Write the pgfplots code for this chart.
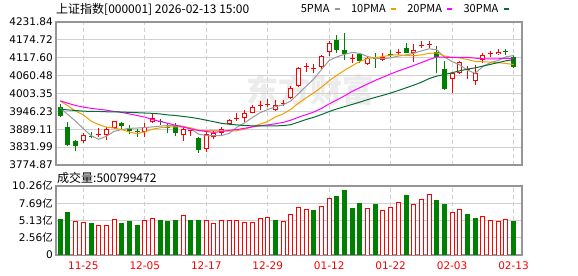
\documentclass[border=0pt]{standalone}
\usepackage{fontspec}
\setmainfont{DejaVu Sans}
\newfontfamily\cjk{Noto Sans CJK SC}
\usepackage{pgfplots}
\usepackage{pgfplotstable}
\pgfplotsset{compat=1.18}

\definecolor{cred}{RGB}{255,0,0}
\definecolor{cgreen}{RGB}{0,128,0}
\definecolor{maf}{RGB}{153,153,153}
\definecolor{mat}{RGB}{240,160,0}
\definecolor{mtw}{RGB}{255,0,255}
\definecolor{mth}{RGB}{0,110,50}
\definecolor{gridc}{RGB}{208,208,208}
\definecolor{framec}{RGB}{150,150,150}
\definecolor{wmark}{RGB}{236,236,236}
\newcommand\tfont{\fontsize{10.5bp}{12bp}\selectfont}

% red (up) candles: index open high low close
\pgfplotstableread{
i o h l c
3 3852.6 3878.1 3845.2 3869.8
5 3869.2 3894.7 3864.4 3874.0
6 3871.7 3896.3 3855.8 3889.0
7 3893.2 3916.5 3890.9 3914.5
11 3879.4 3909.1 3864.4 3896.3
12 3911.4 3938.8 3908.2 3925.1
16 3870.8 3895.4 3852.6 3889.0
17 3882.5 3888.0 3866.6 3883.5
19 3825.1 3881.3 3817.4 3873.0
20 3863.4 3884.5 3857.0 3876.2
21 3878.1 3895.4 3870.8 3889.0
22 3905.0 3921.9 3902.7 3918.7
23 3920.3 3940.1 3916.5 3921.9
24 3924.1 3950.6 3913.3 3942.0
25 3942.0 3966.6 3940.1 3961.2
26 3963.4 3979.4 3950.6 3965.7
27 3967.6 3984.8 3961.2 3969.8
28 3950.6 3982.6 3947.5 3966.6
29 3969.8 3982.6 3963.4 3972.0
30 3989.9 4027.3 3984.8 4021.9
31 4028.3 4089.0 4025.1 4083.9
32 4088.0 4101.8 4073.0 4089.6
33 4080.7 4096.7 4067.9 4081.6
34 4089.0 4126.4 4080.7 4123.2
35 4136.9 4171.1 4123.2 4165.7
38 4112.0 4128.6 4101.8 4113.6
40 4096.7 4123.2 4094.4 4115.8
42 4110.4 4133.7 4108.2 4121.0
44 4133.7 4144.6 4126.4 4135.9
46 4131.8 4160.6 4105.0 4142.3
47 4155.1 4172.1 4147.8 4157.4
48 4159.3 4172.1 4147.8 4161.5
51 4048.7 4073.0 4005.9 4069.8
52 4067.9 4108.2 4065.7 4103.0
53 4077.5 4091.2 4048.7 4078.4
54 4044.3 4094.4 4030.5 4069.8
55 4110.4 4131.8 4099.9 4126.4
56 4130.5 4140.1 4121.0 4132.8
57 4128.6 4144.6 4126.4 4136.9
}\redtab

% green (down) candles
\pgfplotstableread{
i o h l c
0 3959.3 3970.8 3928.3 3932.4
1 3896.3 3913.3 3836.0 3840.0
2 3850.6 3855.8 3818.7 3836.6
4 3868.5 3879.4 3860.2 3864.4
8 3909.1 3911.0 3890.9 3898.6
9 3893.2 3901.2 3872.4 3883.6
10 3882.6 3889.0 3864.4 3879.4
13 3913.9 3920.3 3902.7 3910.7
14 3897.3 3910.1 3878.1 3893.2
15 3899.5 3909.1 3867.6 3877.2
18 3860.2 3865.4 3814.2 3822.9
36 4174.3 4190.0 4131.8 4142.3
37 4142.3 4195.7 4110.4 4128.6
39 4128.6 4133.7 4101.8 4107.2
41 4116.8 4131.8 4083.9 4114.5
43 4129.6 4142.3 4119.0 4127.3
45 4147.8 4163.7 4133.7 4134.0
49 4135.0 4155.1 4067.9 4121.0
50 4080.7 4108.2 4014.5 4017.7
58 4138.5 4145.5 4126.4 4137.5
59 4119.0 4126.4 4083.9 4089.0
}\greentab

% moving averages
\pgfplotstableread{
i m5 m10 m20 m30
0 3957.0 3979.0 3980.0 3953.0
1 3935.7 3964.0 3972.0 3951.0
2 3914.6 3947.0 3965.0 3949.0
3 3890.9 3935.0 3960.0 3947.0
4 3868.6 3915.0 3956.0 3946.0
5 3857.0 3904.0 3953.0 3946.0
6 3866.8 3896.0 3950.0 3945.0
7 3882.3 3893.0 3946.0 3945.0
8 3888.1 3888.0 3943.0 3944.0
9 3891.9 3880.3 3938.0 3943.0
10 3893.0 3875.0 3933.0 3942.0
11 3894.5 3880.6 3928.0 3941.0
12 3896.6 3889.5 3920.0 3940.0
13 3899.0 3893.6 3914.0 3938.0
14 3900.9 3896.4 3908.0 3935.0
15 3900.5 3896.8 3902.0 3933.0
16 3899.0 3896.8 3896.0 3930.0
17 3890.8 3893.6 3890.0 3927.0
18 3873.2 3886.1 3885.0 3923.0
19 3869.2 3885.0 3881.9 3918.0
20 3869.0 3884.7 3879.1 3913.0
21 3869.0 3884.0 3881.6 3908.0
22 3876.0 3883.3 3885.7 3905.0
23 3895.8 3884.4 3888.3 3903.0
24 3909.6 3889.3 3892.2 3901.0
25 3926.6 3897.7 3896.5 3900.0
26 3941.9 3905.4 3900.4 3899.6
27 3952.1 3914.0 3903.1 3899.6
28 3961.1 3928.4 3906.5 3900.0
29 3967.1 3938.3 3911.0 3900.7
30 3979.2 3952.9 3918.1 3903.7
31 4002.8 3972.4 3927.5 3911.8
32 4026.8 3989.5 3935.7 3920.3
33 4049.8 4005.4 3944.2 3927.3
34 4080.0 4023.6 3955.7 3936.0
35 4108.8 4044.0 3970.2 3945.7
36 4120.5 4061.7 3982.8 3954.1
37 4128.3 4077.5 3995.8 3961.3
38 4134.7 4092.2 4010.3 3968.4
39 4131.5 4105.8 4022.0 3975.9
40 4121.5 4115.2 4034.0 3983.8
41 4115.9 4118.2 4045.3 3991.0
42 4114.4 4121.4 4055.4 3997.6
43 4117.2 4125.9 4065.7 4004.8
44 4122.9 4127.2 4075.4 4012.9
45 4126.5 4124.0 4084.0 4021.4
46 4132.1 4124.0 4092.8 4029.9
47 4139.4 4126.9 4102.2 4039.5
48 4146.2 4131.7 4112.0 4050.8
49 4143.2 4133.1 4119.4 4059.0
50 4120.0 4123.3 4119.2 4063.8
51 4105.5 4118.8 4118.5 4069.8
52 4094.6 4117.0 4119.2 4075.9
53 4078.0 4112.1 4119.0 4081.2
54 4067.7 4105.5 4116.3 4085.4
55 4089.5 4104.7 4114.4 4090.9
56 4102.1 4103.8 4113.9 4096.5
57 4108.9 4101.7 4114.3 4102.1
58 4120.7 4099.3 4115.5 4107.8
59 4124.5 4096.1 4114.6 4111.7
}\matab

% volume (100 million), up days
\pgfplotstableread{
i v
2 5.01
3 4.76
5 4.46
6 4.46
7 5.31
11 5.06
12 5.46
16 5.80
19 5.06
20 4.61
21 5.20
22 5.20
23 5.20
24 4.76
25 4.76
26 5.50
27 5.65
29 4.91
30 5.95
31 6.99
32 6.79
34 7.24
35 8.43
40 6.94
42 6.64
43 7.09
44 7.83
46 7.58
47 8.28
48 9.02
51 6.35
52 6.79
55 5.75
56 5.16
57 5.01
58 5.31
}\volred

% volume, down days
\pgfplotstableread{
i v
0 5.35
1 6.39
4 4.61
8 4.61
9 4.91
10 4.46
13 5.20
14 4.91
15 5.20
17 5.06
18 5.06
28 5.20
33 6.69
36 8.77
37 9.52
38 6.84
39 7.73
41 7.44
45 8.92
49 8.03
50 7.44
53 5.95
54 5.50
59 5.01
}\volgreen

\begin{document}
\begin{tikzpicture}
\path[use as bounding box] (0bp,0bp) rectangle (578bp,276bp);
% watermark
\node[text=wmark, font=\cjk\bfseries\fontsize{32bp}{34bp}\selectfont] at (310bp,186bp) {东方财富};
% titles
\node[anchor=west, inner sep=0pt, font=\cjk\fontsize{12bp}{14bp}\selectfont] at (56bp,267bp) {上证指数[000001] 2026-02-13 15:00};
\node[anchor=west, inner sep=0pt, font=\cjk\fontsize{12bp}{14bp}\selectfont] at (57bp,98bp) {成交量:500799472};

\begin{axis}[
  at={(56bp,111bp)}, anchor=south west,
  width=466bp, height=143bp, scale only axis,
  xmin=-0.56, xmax=60.1, ymin=3774.87, ymax=4231.84,
  axis line style={draw=framec, line width=1.2bp},
  xtick={3,11,19,27,35,43,51,59}, xticklabels={},
  ytick={3774.87,3831.99,3889.11,3946.23,4003.35,4060.48,4117.60,4174.72,4231.84},
  yticklabels={3774.87,3831.99,3889.11,3946.23,4003.35,4060.48,4117.60,4174.72,4231.84},
  major tick length=0pt,
  xmajorgrids, ymajorgrids,
  x grid style={draw=gridc, line width=1bp, dash pattern=on 4bp off 3bp},
  y grid style={draw=gridc, line width=1bp},
  yticklabel style={font=\tfont, inner sep=0pt, xshift=-3bp, text=black},
  legend style={at={(axis description cs:0.974,1.091)}, anchor=east, draw=none, fill=none,
    inner sep=0pt, outer sep=0pt, font=\cjk\fontsize{11bp}{12bp}\selectfont,
    /tikz/every odd column/.append style={column sep=2bp},
    /tikz/every even column/.append style={column sep=8bp}},
  legend columns=4,
  legend plot pos=right,
  legend image code/.code={\draw[#1, line width=2.5bp, solid] (0bp,0bp) -- (5bp,0bp);},
]
% red candles: wick, outline body, white inside
\addplot[draw=none, mark=none, forget plot,
  error bars/.cd, y dir=plus, y explicit, error mark=none,
  error bar style={draw=cred, line width=1bp, solid}]
  table[x=i, y=l, y error plus expr={\thisrow{h}-\thisrow{l}}] {\redtab};
\addplot[draw=none, mark=none, forget plot,
  error bars/.cd, y dir=plus, y explicit, error mark=none,
  error bar style={draw=cred, line width=5bp, solid}]
  table[x=i, y expr={min(\thisrow{o},\thisrow{c})}, y error plus expr={max(abs(\thisrow{c}-\thisrow{o}),3.2)}] {\redtab};
\addplot[draw=none, mark=none, forget plot,
  error bars/.cd, y dir=plus, y explicit, error mark=none,
  error bar style={draw=white, line width=3bp, solid}]
  table[x=i, y expr={min(\thisrow{o},\thisrow{c})+3.2}, y error plus expr={max(abs(\thisrow{c}-\thisrow{o})-6.4,0)}] {\redtab};
% green candles: wick and filled body
\addplot[draw=none, mark=none, forget plot,
  error bars/.cd, y dir=plus, y explicit, error mark=none,
  error bar style={draw=cgreen, line width=1bp, solid}]
  table[x=i, y=l, y error plus expr={\thisrow{h}-\thisrow{l}}] {\greentab};
\addplot[draw=none, mark=none, forget plot,
  error bars/.cd, y dir=plus, y explicit, error mark=none,
  error bar style={draw=cgreen, line width=5bp, solid}]
  table[x=i, y=c, y error plus expr={max(\thisrow{o}-\thisrow{c},3.2)}] {\greentab};
% moving averages
\addplot[maf, line width=1bp, mark=none] table[x=i, y=m5] {\matab};
\addlegendentry{5PMA}
\addplot[mat, line width=1bp, mark=none] table[x=i, y=m10] {\matab};
\addlegendentry{10PMA}
\addplot[mtw, line width=1bp, mark=none] table[x=i, y=m20] {\matab};
\addlegendentry{20PMA}
\addplot[mth, line width=1bp, mark=none] table[x=i, y=m30] {\matab};
\addlegendentry{30PMA}
\end{axis}

\begin{axis}[
  at={(56bp,21bp)}, anchor=south west,
  width=466bp, height=69bp, scale only axis,
  xmin=-0.56, xmax=60.1, ymin=0, ymax=10.26,
  axis line style={draw=framec, line width=1.2bp},
  xtick={3,11,19,27,35,43,51,59},
  xticklabels={11-25,12-05,12-17,12-29,01-12,01-22,02-03,02-13},
  ytick={0,2.56,5.13,7.69,10.26},
  yticklabels={0,{2.56{\cjk 亿}},{5.13{\cjk 亿}},{7.69{\cjk 亿}},{10.26{\cjk 亿}}},
  major tick length=0pt,
  xmajorgrids, ymajorgrids,
  x grid style={draw=gridc, line width=1bp, dash pattern=on 4bp off 3bp},
  y grid style={draw=gridc, line width=1bp},
  yticklabel style={font=\tfont, inner sep=0pt, xshift=-3bp, text=black},
  xticklabel style={font=\tfont, inner sep=0pt, yshift=-7bp, text=cred},
]
\addplot[ybar, bar width=4bp, bar shift=0pt, draw=cred, fill=white, line width=1bp] table[x=i, y=v] {\volred};
\addplot[ybar, bar width=4bp, bar shift=0pt, draw=cgreen, fill=cgreen, line width=1bp] table[x=i, y=v] {\volgreen};
\end{axis}
\end{tikzpicture}
\end{document}
